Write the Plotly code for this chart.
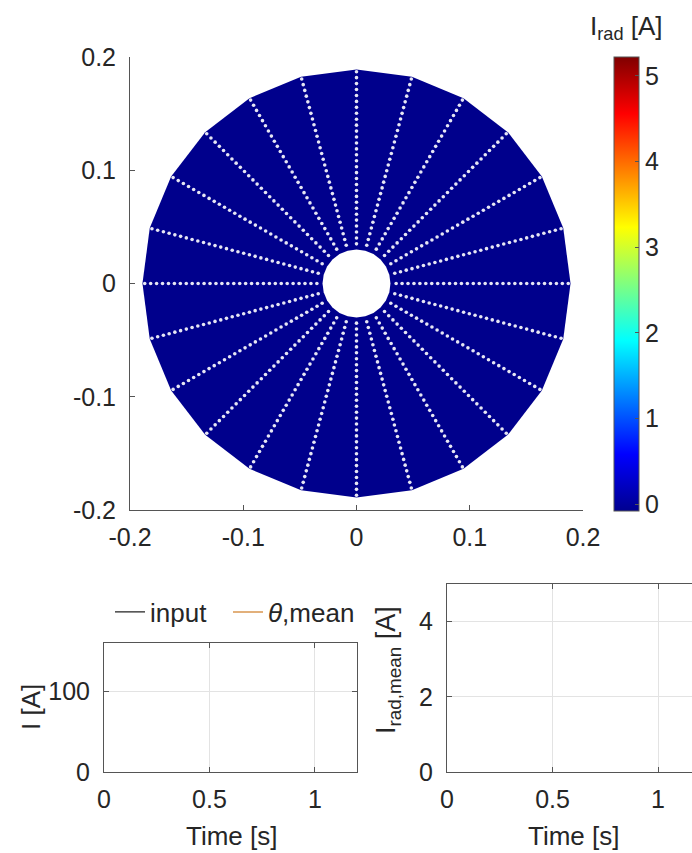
import numpy as np
import plotly.graph_objects as go

# ---------------- data ----------------
spoke_angles_deg = [0, 15, 30, 45, 60, 75, 90, 105, 120, 135, 150, 165,
                    180, 195, 210, 225, 240, 255, 270, 285, 300, 315, 330, 345]
r_inner_hole = 0.030
r_outer_disk = 0.189
r_dot_start = 0.035
r_dot_end = 0.187
n_dots_per_spoke = 30
element_current = 0.0          # I_rad of all elements [A]
c_min, c_max = -0.08, 5.22

time_s = [0.0]
input_current = [0.0]
theta_mean_current = [0.0]
irad_mean = [0.0]

main_ticks = [-0.2, -0.1, 0, 0.1, 0.2]
main_ticktext = ["-0.2", "-0.1", "0", "0.1", "0.2"]
cbar_ticks = [0, 1, 2, 3, 4, 5]
time_ticks = [0, 0.5, 1]
time_ticktext = ["0", "0.5", "1"]
i_ticks = [0, 100]
irad_ticks = [0, 2, 4]

# MATLAB jet
jet = [[0.0, "rgb(0,0,143)"], [0.125, "rgb(0,0,255)"], [0.375, "rgb(0,255,255)"],
       [0.625, "rgb(255,255,0)"], [0.875, "rgb(255,0,0)"], [1.0, "rgb(128,0,0)"]]

FONT = "Liberation Sans, Arial, sans-serif"
TXT = "#262626"
AX = "#555555"
W, H = 692, 853

def px(x):
    return x / W

def py(y):
    return 1 - y / H

fig = go.Figure()

ang = np.deg2rad(np.array(spoke_angles_deg + [spoke_angles_deg[0]], dtype=float))
disk_col = "rgb(0,0,140)"
# disk
fig.add_trace(go.Scatter(x=r_outer_disk * np.cos(ang), y=r_outer_disk * np.sin(ang),
                         mode="lines", fill="toself", fillcolor=disk_col,
                         line=dict(width=0, color=disk_col),
                         showlegend=False, hoverinfo="skip", xaxis="x", yaxis="y"))
fig.add_trace(go.Scatter(x=r_inner_hole * np.cos(ang), y=r_inner_hole * np.sin(ang),
                         mode="lines", fill="toself", fillcolor="white",
                         line=dict(width=0, color="white"),
                         showlegend=False, hoverinfo="skip", xaxis="x", yaxis="y"))
# dotted spokes
rr = np.linspace(r_dot_start, r_dot_end, n_dots_per_spoke)
dx, dy = [], []
for a in np.deg2rad(spoke_angles_deg):
    dx.extend(rr * np.cos(a))
    dy.extend(rr * np.sin(a))
fig.add_trace(go.Scatter(x=dx, y=dy, mode="markers",
                         marker=dict(size=3.6, color="#E6E6F4", line=dict(width=0)),
                         showlegend=False, hoverinfo="skip", xaxis="x", yaxis="y"))
# colorbar carrier
fig.add_trace(go.Scatter(x=[None], y=[None], mode="markers", xaxis="x", yaxis="y",
                         marker=dict(color=[element_current], colorscale=jet, cmin=c_min, cmax=c_max,
                                     showscale=True,
                                     colorbar=dict(x=px(614), xanchor="left", xref="paper",
                                                   y=py(57), yanchor="top", yref="paper",
                                                   len=454 / H, lenmode="fraction",
                                                   thickness=25, thicknessmode="pixels",
                                                   xpad=0, ypad=0, outlinewidth=1, outlinecolor=AX,
                                                   tickvals=cbar_ticks, ticks="inside", ticklen=4,
                                                   tickcolor=AX,
                                                   tickfont=dict(family=FONT, size=25, color=TXT))),
                         showlegend=False, hoverinfo="skip"))

# bottom-left
fig.add_trace(go.Scatter(x=time_s, y=input_current, mode="lines", name="input", legend="legend",
                         line=dict(color="#222222", width=1.2), xaxis="x2", yaxis="y2"))
fig.add_trace(go.Scatter(x=time_s, y=theta_mean_current, mode="lines", name="<i>θ</i>,mean",
                         legend="legend2",
                         line=dict(color="#D9964F", width=1.5), xaxis="x2", yaxis="y2"))
# bottom-right
fig.add_trace(go.Scatter(x=time_s, y=irad_mean, mode="lines", showlegend=False,
                         line=dict(color="#0072BD", width=1), xaxis="x3", yaxis="y3"))

tickfont = dict(family=FONT, size=25, color=TXT)
common = dict(showgrid=False, zeroline=False, showline=True, linecolor=AX, linewidth=1,
              ticks="inside", ticklen=5, tickcolor=AX, tickfont=tickfont, automargin=False)
grid = dict(showgrid=True, gridcolor="#E3E3E3")
legfont = dict(family=FONT, size=26, color=TXT)

fig.update_layout(
    width=W, height=H, margin=dict(l=0, r=0, t=0, b=0),
    paper_bgcolor="white", plot_bgcolor="white",
    xaxis=dict(domain=[px(130), px(583)], range=[-0.2, 0.2], anchor="y",
               tickvals=main_ticks, ticktext=main_ticktext, ticklabelstandoff=5, **common),
    yaxis=dict(domain=[py(510), py(57)], range=[-0.2, 0.2], anchor="x",
               tickvals=main_ticks, ticktext=main_ticktext, ticklabelstandoff=8, **common),
    xaxis2=dict(domain=[px(104), px(357)], range=[0, 1.2], anchor="y2", mirror="ticks",
                tickvals=time_ticks, ticktext=time_ticktext, ticklabelstandoff=5,
                **{**common, **grid}),
    yaxis2=dict(domain=[py(772), py(643)], range=[0, 160], anchor="x2", mirror="ticks",
                tickvals=i_ticks, ticklabelstandoff=8,
                **{**common, **grid}),
    xaxis3=dict(domain=[px(447), 1.0], range=[0, (692 - 447) / 211], anchor="y3", mirror="ticks",
                tickvals=time_ticks, ticktext=time_ticktext, ticklabelstandoff=5,
                **{**common, **grid}),
    yaxis3=dict(domain=[py(772), py(584)], range=[0, 5], anchor="x3",
                tickvals=irad_ticks, ticklabelstandoff=8,
                **{**common, **grid}),
    legend=dict(orientation="h", x=px(110), xanchor="left", y=py(612), yanchor="middle",
                font=legfont, bgcolor="rgba(0,0,0,0)", itemwidth=30),
    legend2=dict(orientation="h", x=px(228), xanchor="left", y=py(612), yanchor="middle",
                 font=legfont, bgcolor="rgba(0,0,0,0)", itemwidth=30),
    showlegend=True,
)

ann = [
    dict(text="I<sub>rad</sub> [A]", x=px(626), y=py(27), xref="paper", yref="paper",
         showarrow=False, font=dict(family=FONT, size=26, color=TXT), xanchor="center", yanchor="middle"),
    dict(text="Time [s]", x=px(231), y=py(836), xref="paper", yref="paper",
         showarrow=False, font=dict(family=FONT, size=26, color=TXT), xanchor="center", yanchor="middle"),
    dict(text="Time [s]", x=px(573), y=py(836), xref="paper", yref="paper",
         showarrow=False, font=dict(family=FONT, size=26, color=TXT), xanchor="center", yanchor="middle"),
    dict(text="I [A]", x=px(31), y=py(707), xref="paper", yref="paper", textangle=-90,
         showarrow=False, font=dict(family=FONT, size=26, color=TXT), xanchor="center", yanchor="middle"),
    dict(text="I<sub>rad,mean</sub> [A]", x=px(388), y=py(670), xref="paper", yref="paper", textangle=-90,
         showarrow=False, font=dict(family=FONT, size=27, color=TXT), xanchor="center", yanchor="middle"),
]
fig.update_layout(annotations=ann)

fig.write_html("out.html")
